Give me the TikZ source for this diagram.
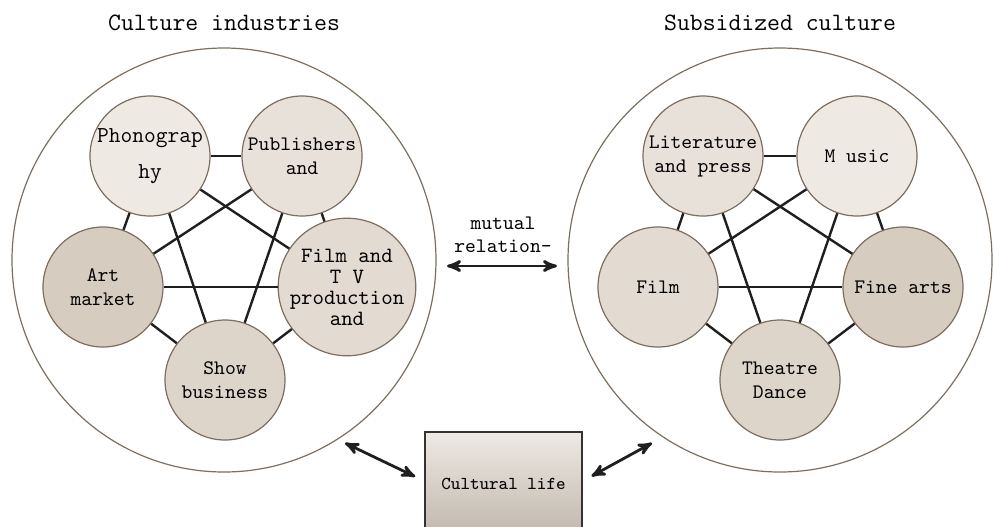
\documentclass[tikz,border=0pt]{standalone}
\usepackage{fontspec}
\usetikzlibrary{arrows}
\definecolor{rimbrown}{HTML}{7D6E5E}
\definecolor{paleA}{HTML}{EEE9E3}
\definecolor{paleB}{HTML}{E8E1D9}
\definecolor{paleC}{HTML}{E3DBD2}
\definecolor{paleD}{HTML}{DDD4CA}
\definecolor{paleE}{HTML}{D6CCC0}

\begin{document}
\begin{tikzpicture}[x=0.5pt,y=-0.5pt,
    outer/.style={circle, draw=rimbrown, line width=0.6pt, minimum size=212pt, inner sep=0pt},
    field/.style={circle, draw=rimbrown, line width=0.6pt, minimum size=60pt, inner sep=0pt,
      align=center, font=\ttfamily\fontsize{10.3}{12}\selectfont},
    link/.style={line width=1.2pt, black!88},
    twoway/.style={<->, >=stealth', line width=1.4pt, black!88},
    heading/.style={font=\ttfamily\fontsize{12.5}{14}\selectfont},
    note/.style={align=center, font=\ttfamily\fontsize{10.3}{11.5}\selectfont},
    lifebox/.style={draw=black!80, line width=0.7pt, top color=paleA, bottom color=paleE!90!black,
      minimum width=78.5pt, minimum height=52pt, font=\ttfamily\fontsize{9.1}{10}\selectfont},
]
    \useasboundingbox (0,0) rectangle (994,526);

    %culture industries
    \node[heading] (citit) at (224,23) {Culture industries};
    \node[outer] (ci) at (224,260) {};
    \node[field, fill=paleA, font=\ttfamily\fontsize{11.4}{13}\selectfont] (ph) at (150,156) {Phonograp\\[5pt]hy};
    \node[field, fill=paleB] (pu) at (302,156) {Publishers\\and};
    \node[field, fill=paleE] (am) at (103,287) {Art\\market};
    \node[field, fill=paleC, font=\ttfamily\fontsize{10.9}{10.5}\selectfont] (ft) at (347,287) {Film and\\T V\\production\\and};
    \node[field, fill=paleD] (sb) at (225,380) {Show\\business};
    \foreach \a/\b in {ph/pu, ph/am, ph/ft, ph/sb, pu/am, pu/ft, pu/sb, am/ft, am/sb, ft/sb}
      \draw[link] (\a) -- (\b);

    %subsidized culture
    \node[heading] (sctit) at (780,23) {Subsidized culture};
    \node[outer] (sc) at (780,260) {};
    \node[field, fill=paleB] (lp) at (703,156) {Literature\\and press};
    \node[field, fill=paleA] (mu) at (857,156) {M usic};
    \node[field, fill=paleC] (fm) at (658,287) {Film};
    \node[field, fill=paleE] (fa) at (903,287) {Fine arts};
    \node[field, fill=paleD] (td) at (780,380) {Theatre\\Dance};
    \foreach \a/\b in {lp/mu, lp/fm, lp/fa, lp/td, mu/fm, mu/fa, mu/td, fm/fa, fm/td, fa/td}
      \draw[link] (\a) -- (\b);

    %relations
    \node[note] (mut) at (503,235) {mutual\\relation-};
    \coordinate (mutl) at (447,266);
    \coordinate (mutr) at (557,266);
    \draw[twoway] (mutl) -- (mutr);

    \node[lifebox] (life) at (503.5,484) {Cultural life};
    \coordinate (cilow) at (345,443);
    \coordinate (sclow) at (652,443);
    \draw[twoway, shorten >=5pt] (cilow) -- (life.west |- 0,481);
    \draw[twoway, shorten <=5pt] (life.east |- 0,481) -- (sclow);
\end{tikzpicture}
\end{document}
